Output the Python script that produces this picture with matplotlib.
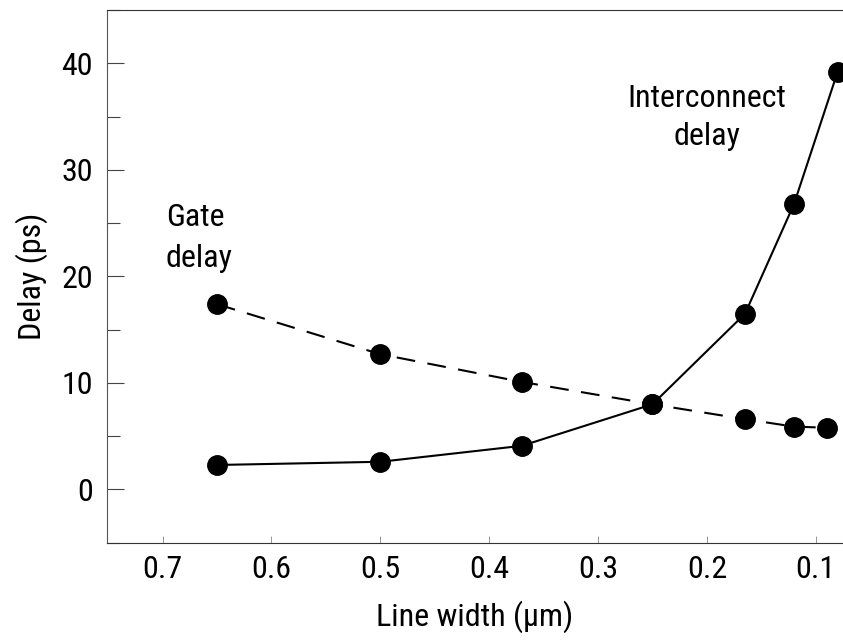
import numpy as np
import matplotlib
matplotlib.use("Agg")
import matplotlib.pyplot as plt
from matplotlib import font_manager
from matplotlib.ticker import MultipleLocator

# condensed face if one is installed
names = set(f.name for f in font_manager.fontManager.ttflist)
narrow = [n for n in ['Liberation Sans Narrow', 'DejaVu Sans Condensed', 'Roboto Condensed',
                      'Open Sans Condensed', 'Noto Sans Condensed'] if n in names]
plt.rcParams['font.family'] = narrow + ['DejaVu Sans']
if not narrow:
    plt.rcParams['font.stretch'] = 'condensed'

# values
gate_x = [0.65, 0.50, 0.37, 0.25, 0.165, 0.12, 0.09]
gate_y = [17.4, 12.7, 10.1, 8.0, 6.6, 5.9, 5.8]
inter_x = [0.65, 0.50, 0.37, 0.25, 0.165, 0.12, 0.08]
inter_y = [2.3, 2.6, 4.1, 8.0, 16.5, 26.8, 39.2]
xticks = [0.7, 0.6, 0.5, 0.4, 0.3, 0.2, 0.1]
yticks = [0, 10, 20, 30, 40]

fig = plt.figure(figsize=(8.43, 6.4), dpi=100)
ax = fig.add_axes([0.127, 0.152, 0.873, 0.832])

ax.plot(gate_x, gate_y, color="black", lw=1.5, ls=(0, (9, 6)),
        marker="o", ms=14, clip_on=False, zorder=3)
ax.plot(inter_x, inter_y, color="black", lw=1.5, ls="-",
        marker="o", ms=14, clip_on=False, zorder=3)

ax.set_xlim(0.751, 0.075)
ax.set_ylim(-5, 45)
ax.set_xticks(xticks)
ax.set_xticklabels([str(t) for t in xticks])
ax.set_yticks(yticks)
ax.yaxis.set_minor_locator(MultipleLocator(5))

ax.tick_params(axis="both", labelsize=23, colors="black")
ax.tick_params(axis="y", which="major", direction="in", length=12, width=0.8, color="#444444", pad=10)
ax.tick_params(axis="y", which="minor", direction="in", length=9, width=0.8, color="#444444")
ax.tick_params(axis="x", which="major", direction="in", length=5, width=0.6, color="#888888", pad=9)

for s in ["top", "bottom"]:
    ax.spines[s].set_linewidth(0.8)
    ax.spines[s].set_color("#333333")
ax.spines["left"].set_linewidth(0.8)
ax.spines["left"].set_color("#555555")
ax.spines["left"].set_linestyle((0, (2, 1)))
ax.spines["right"].set_visible(False)

ax.set_xlabel("Line width (\u03bcm)", fontsize=23, labelpad=12)
ax.set_ylabel("Delay (ps)", fontsize=23, labelpad=10)

ax.text(0.697, 23.6, "Gate\ndelay", fontsize=23, ha="left", va="center", linespacing=1.5)
ax.text(0.2, 34.9, "Interconnect\ndelay", fontsize=23, ha="center", va="center",
        multialignment="center", linespacing=1.4)

fig.savefig("out.png", dpi=100)
